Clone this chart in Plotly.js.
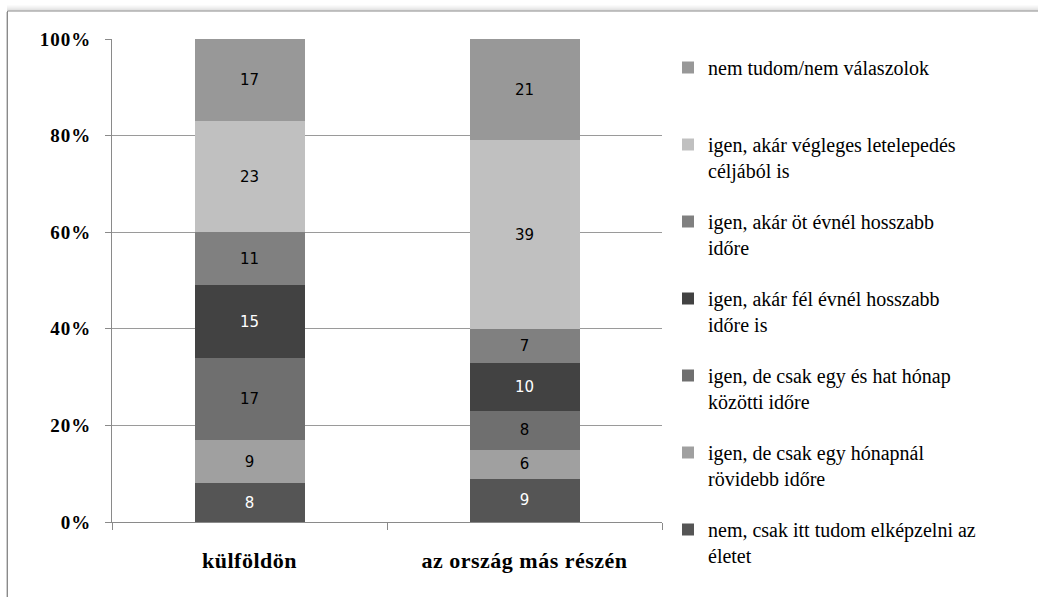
<!DOCTYPE html>
<html>
<head>
<meta charset="utf-8">
<script src="https://cdn.plot.ly/plotly-3.0.1.min.js"></script>
<style>
  html, body { margin: 0; padding: 0; background: #ffffff; }
  #chart { width: 1038px; height: 597px; }
  #chart .ytick text { letter-spacing: 1px; }
  #chart .xtick text { letter-spacing: 0.5px; }
</style>
</head>
<body>
<div id="chart"></div>
<script>
// ---- data ----
const categories = ["külföldön", "az ország más részén"];

const seriesNames = [
  "nem, csak itt tudom elképzelni az<br>életet",
  "igen, de csak egy hónapnál<br>rövidebb időre",
  "igen, de csak egy és hat hónap<br>közötti időre",
  "igen, akár fél évnél hosszabb<br>időre is",
  "igen, akár öt évnél hosszabb<br>időre",
  "igen, akár végleges letelepedés<br>céljából is",
  "nem tudom/nem válaszolok<br>\u00a0"
];

const nemCsakItt   = [8, 9];
const egyHonapnal  = [9, 6];
const egyHatHonap  = [17, 8];
const felEvnel     = [15, 10];
const otEvnel      = [11, 7];
const vegleges     = [23, 39];
const nemTudom     = [17, 21];

const seriesValues = [nemCsakItt, egyHonapnal, egyHatHonap, felEvnel, otEvnel, vegleges, nemTudom];

const yTickVals = [0, 20, 40, 60, 80, 100];
const yTickText = ["0%", "20%", "40%", "60%", "80%", "100%"];

// ---- styles ----
const SERIF = "Liberation Serif, DejaVu Serif, Times New Roman, serif";
const colors = ["#555555", "#a0a0a0", "#6f6f6f", "#424242", "#808080", "#c0c0c0", "#989898"];
const labelColors = ["#ffffff", "#000000", "#000000", "#ffffff", "#000000", "#000000", "#000000"];

const traces = seriesNames.map((name, i) => ({
  type: "bar",
  name: name,
  x: categories,
  y: seriesValues[i],
  text: seriesValues[i].map(String),
  textposition: "inside",
  insidetextanchor: "middle",
  textangle: 0,
  textfont: { family: "DejaVu Sans", size: 15, color: labelColors[i] },
  marker: { color: colors[i], line: { width: 0 } },
  legendgroup: "g" + i,
  legendrank: 100 - i,
  hoverinfo: "skip"
}));

// frame geometry helpers (plot area: l=112, r=662, t=39, b=522)
const L = 112, R = 662, T = 39, B = 522;
const px = v => (v - L) / (R - L);
const py = v => (B - v) / (B - T);

const shapes = [];
// soft shadow above the top frame line
const shadowCols = ["#f7f7f7", "#f1f1f1", "#eaeaea", "#e2e2e2", "#d8d8d8"];
shadowCols.forEach((c, k) => {
  shapes.push({ type: "line", xref: "paper", yref: "paper", layer: "below",
    x0: px(7), x1: px(1040), y0: py(6 + k), y1: py(6 + k),
    line: { color: c, width: 1 } });
});
// frame
shapes.push({ type: "line", xref: "paper", yref: "paper", layer: "below",
  x0: px(7.5), x1: px(1040), y0: py(11), y1: py(11), line: { color: "#8a8a8a", width: 1 } });
shapes.push({ type: "line", xref: "paper", yref: "paper", layer: "below",
  x0: px(7.5), x1: px(7.5), y0: py(11), y1: py(600), line: { color: "#8a8a8a", width: 1 } });
shapes.push({ type: "line", xref: "paper", yref: "paper", layer: "below",
  x0: px(6.5), x1: px(6.5), y0: py(12), y1: py(600), line: { color: "#d0d0d0", width: 1 } });

const layout = {
  width: 1038,
  height: 597,
  margin: { l: L, r: 1038 - R, t: T, b: 597 - B, pad: 0 },
  paper_bgcolor: "rgba(0,0,0,0)",
  plot_bgcolor: "#ffffff",
  barmode: "stack",
  bargap: 0.6,
  showlegend: true,
  font: { family: SERIF, color: "#000000" },
  xaxis: {
    type: "category",
    showgrid: false,
    showline: true,
    linecolor: "#8a8a8a",
    linewidth: 1,
    ticks: "outside",
    tickson: "boundaries",
    ticklen: 7,
    tickcolor: "#8a8a8a",
    tickfont: { family: SERIF, size: 22, color: "#000000", weight: "bold" },
    ticklabelstandoff: 19,
    fixedrange: true,
    zeroline: false
  },
  yaxis: {
    range: [0, 100],
    tickvals: yTickVals,
    ticktext: yTickText,
    showgrid: true,
    gridcolor: "#9a9a9a",
    gridwidth: 1,
    showline: true,
    linecolor: "#8a8a8a",
    linewidth: 1,
    ticks: "outside",
    ticklen: 6,
    tickcolor: "#8a8a8a",
    tickfont: { family: SERIF, size: 19, color: "#000000", weight: "bold" },
    ticklabelstandoff: 10,
    zeroline: false,
    fixedrange: true
  },
  legend: {
    x: px(668),
    xanchor: "left",
    y: py(48),
    yanchor: "top",
    traceorder: "grouped",
    tracegroupgap: 22,
    valign: "top",
    maxheight: 560,
    bgcolor: "rgba(0,0,0,0)",
    borderwidth: 0,
    font: { family: SERIF, size: 20, color: "#000000" },
    itemclick: false,
    itemdoubleclick: false
  },
  shapes: shapes
};

Plotly.newPlot("chart", traces, layout, { displayModeBar: false, staticPlot: true });
</script>
</body>
</html>
